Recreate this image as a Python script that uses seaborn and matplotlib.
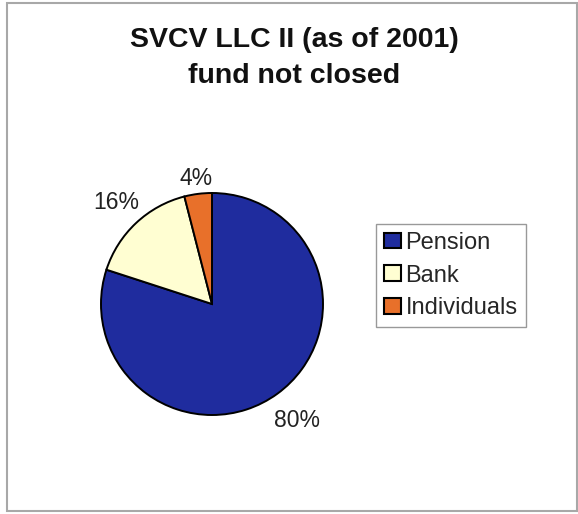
import matplotlib
matplotlib.use("Agg")
import matplotlib.pyplot as plt
import seaborn as sns
import numpy as np
from matplotlib.patches import Rectangle

sns.set_theme(style="white")
plt.rcParams['font.family'] = ['Liberation Sans', 'DejaVu Sans']

# data
categories = ["Pension", "Bank", "Individuals"]
shares = [80, 16, 4]
colors = ["#1f2c9e", "#fffed2", "#e8702a"]

W, H = 578, 514
fig = plt.figure(figsize=(W / 100, H / 100), dpi=100)

# outer frame
fig.add_artist(Rectangle((7 / W, 3 / H), 570 / W, 508 / H, transform=fig.transFigure,
                         fill=False, edgecolor="#a8a8a8", linewidth=1.5))

fig.text(294 / W, 1 - 47 / H, "SVCV LLC II (as of 2001)", ha="center", va="baseline",
         fontsize=20.5, fontweight="bold", color="#111111")
fig.text(294 / W, 1 - 83 / H, "fund not closed", ha="center", va="baseline",
         fontsize=20.5, fontweight="bold", color="#111111")

# pie: centre (212, 304) px, radius 111 px
r = 111
ax = fig.add_axes([(212 - r) / W, (H - 304 - r) / H, 2 * r / W, 2 * r / H])
wedges, texts, autotexts = ax.pie(
    shares, colors=colors, startangle=90, counterclock=False,
    autopct="%d%%", pctdistance=1.25,
    wedgeprops=dict(edgecolor="black", linewidth=1.4),
    textprops=dict(fontsize=16.5, color="#222222"))
ax.set_xlim(-1, 1)
ax.set_ylim(-1, 1)
ax.set_aspect("equal")
ax.axis("off")

# label distance per wedge (Excel puts labels just outside the rim)
dist = [1.30, 1.26, 1.14]
for w, t, d in zip(wedges, autotexts, dist):
    ang = np.deg2rad((w.theta1 + w.theta2) / 2)
    t.set_position((d * np.cos(ang), d * np.sin(ang)))

leg = fig.legend(wedges, categories, loc="center left",
                 bbox_to_anchor=(376 / W, 1 - 275.5 / H), borderaxespad=0,
                 frameon=True, fancybox=False, framealpha=1, edgecolor="#999999",
                 fontsize=17, handlelength=0.7, handleheight=0.65,
                 handletextpad=0.2, labelspacing=0.45, borderpad=0.35)
leg.get_frame().set_linewidth(1.0)
for h in leg.legend_handles:
    h.set_edgecolor("black")
    h.set_linewidth(1.5)

fig.savefig("out.png", dpi=100)
